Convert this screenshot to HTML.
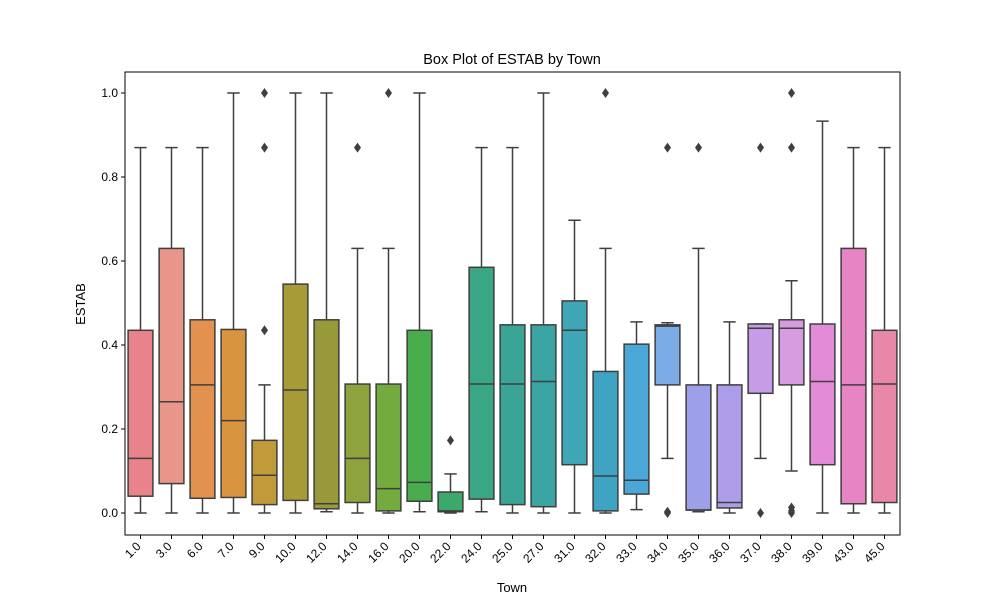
<!DOCTYPE html>
<html><head><meta charset="utf-8"><style>
body{margin:0;background:#fff;}
svg text{font-family:"Liberation Sans","DejaVu Sans",sans-serif;fill:#000;}
</style></head><body>
<svg id="chart" width="1000" height="600" viewBox="0 0 1000 600" xmlns="http://www.w3.org/2000/svg">
<rect width="1000" height="600" fill="#fff"/>
<text x="512" y="64" font-size="14.5" text-anchor="middle">Box Plot of ESTAB by Town</text>
<text x="512" y="592" font-size="13" text-anchor="middle">Town</text>
<text transform="translate(85,304) rotate(-90)" font-size="13" text-anchor="middle">ESTAB</text>
<g id="plot"></g>
<rect x="125" y="72" width="775" height="463" fill="none" stroke="#000" stroke-width="1"/>
</svg>
<script>
const categories=["1.0","3.0","6.0","7.0","9.0","10.0","12.0","14.0","16.0","20.0","22.0","24.0","25.0","27.0","31.0","32.0","33.0","34.0","35.0","36.0","37.0","38.0","39.0","43.0","45.0"];
const whiskerLow=[0,0,0,0,0,0,0.003,0,0,0.003,0,0.003,0,0,0,0,0.008,0.13,0.003,0,0.13,0.1,0,0,0];
const q1=[0.04,0.07,0.035,0.037,0.02,0.03,0.01,0.025,0.005,0.028,0.003,0.033,0.02,0.015,0.115,0.005,0.045,0.305,0.007,0.012,0.285,0.305,0.115,0.022,0.025];
const medians=[0.13,0.265,0.305,0.22,0.09,0.293,0.022,0.13,0.058,0.073,0.005,0.307,0.307,0.313,0.435,0.088,0.078,0.445,0.007,0.025,0.44,0.44,0.313,0.305,0.307];
const q3=[0.435,0.63,0.46,0.437,0.173,0.545,0.46,0.307,0.307,0.435,0.05,0.585,0.448,0.448,0.505,0.337,0.402,0.448,0.305,0.305,0.45,0.46,0.45,0.63,0.435];
const whiskerHigh=[0.87,0.87,0.87,1.0,0.305,1.0,1.0,0.63,0.63,1.0,0.093,0.87,0.87,1.0,0.697,0.63,0.455,0.453,0.63,0.455,0.45,0.553,0.933,0.87,0.87];
const outliers=[[],[],[],[],[0.435,0.87,1.0],[],[],[0.87],[1.0],[],[0.173],[],[],[],[],[1.0],[],[0.87,0,0.003],[0.87],[],[0.87,0],[1.0,0.87,0.013,0.005,0],[],[],[]];
const colors=["#e8838c","#e8968a","#e2914e","#d8943f","#c19b3a","#a79b36","#989a39","#8ea23e","#74ab3f","#49ad4e","#3aa96a","#3aa685","#3aa596","#3ba5a3","#3ea6b5","#3fa4c4","#4aa7d8","#7bace6","#9d9fe8","#ad9de8","#c79ce6","#d79be0","#e28cd8","#e684c4","#e887a8"];
const yTicks=[0,0.2,0.4,0.6,0.8,1.0];
const X0=125,X1=900,Y0=513,PPU=420;
const n=categories.length,step=(X1-X0)/n;
const xc=i=>X0+step*(i+0.5);
const y=v=>Y0-PPU*v;
const g=document.getElementById('plot');
const NS="http://www.w3.org/2000/svg";
function mk(t,a){const e=document.createElementNS(NS,t);for(const k in a)e.setAttribute(k,a[k]);g.appendChild(e);return e;}
yTicks.forEach(t=>{
 const l=mk('line',{x1:X0-4,x2:X0,y1:y(t),y2:y(t),stroke:'#000'});
 
 
 const tx=mk('text',{x:X0-7,y:y(t)+4,'font-size':12,'text-anchor':'end'});
 tx.textContent=t.toFixed(1);
 
 
});
const C="#3f3f3f",bw=step*0.8;
categories.forEach((c,i)=>{
 const x=xc(i);
 const tk=mk('line',{x1:x,x2:x,y1:535,y2:539,stroke:'#000'});
 
 
 const tx=mk('text',{transform:`translate(${x+1},${547}) rotate(-45)`,'font-size':12,'text-anchor':'end'});
 tx.textContent=c;
 
 
 const w1=mk('line',{x1:x,x2:x,y1:y(whiskerLow[i]),y2:y(q1[i]),stroke:C,'stroke-width':1.5});
 
 
 const w2=mk('line',{x1:x,x2:x,y1:y(q3[i]),y2:y(whiskerHigh[i]),stroke:C,'stroke-width':1.5});
 
 
 [whiskerLow[i],whiskerHigh[i]].forEach(v=>{
  const cap=mk('line',{x1:x-bw/4,x2:x+bw/4,y1:y(v),y2:y(v),stroke:C,'stroke-width':1.5});
  
  
 });
 const b=mk('rect',{x:x-bw/2,y:y(q3[i]),width:bw,height:Math.max(0.5,y(q1[i])-y(q3[i])),fill:colors[i],stroke:C,'stroke-width':1.5});
 
 
 const m=mk('line',{x1:x-bw/2,x2:x+bw/2,y1:y(medians[i]),y2:y(medians[i]),stroke:C,'stroke-width':1.5});
 
 
 outliers[i].forEach(v=>{
  const yy=y(v);
  const d=mk('path',{d:`M${x},${yy-5} L${x+3.5},${yy} L${x},${yy+5} L${x-3.5},${yy} Z`,fill:C});
  
  
 });
});
</script>
</body></html>
